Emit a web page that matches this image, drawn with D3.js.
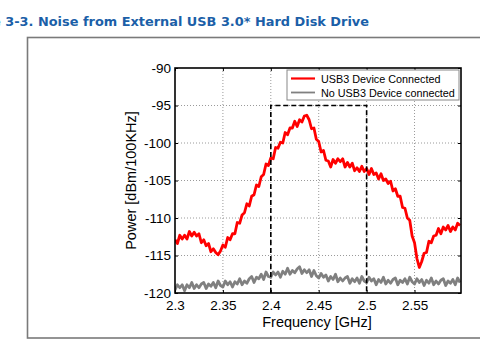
<!DOCTYPE html>
<html>
<head>
<meta charset="utf-8">
<script src="https://cdn.jsdelivr.net/npm/d3@7"></script>
<style>
  html, body { margin: 0; padding: 0; background: #fff; }
  svg { display: block; }
</style>
</head>
<body>
<svg id="chart" width="480" height="350"></svg>
<script>
// ---------- DATA ----------
const titleText = "Figure 3-3. Noise from External USB 3.0* Hard Disk Drive";
const seriesNames = ["USB3 Device Connected", "No USB3 Device connected"];
const xTicks = [2.3, 2.35, 2.4, 2.45, 2.5, 2.55];
const yTicks = [-90, -95, -100, -105, -110, -115, -120];
const xDomain = [2.3, 2.5985];
const yDomain = [-120, -90];
const bandBox = { x0: 2.4, x1: 2.5, yTop: -95, yBottom: -120 };

const freqGHz = [
  2.3000,2.3025,2.3050,2.3075,2.3100,2.3125,2.3150,2.3175,2.3200,2.3225,
  2.3250,2.3275,2.3300,2.3325,2.3350,2.3375,2.3400,2.3425,2.3450,2.3475,
  2.3500,2.3525,2.3550,2.3575,2.3600,2.3625,2.3650,2.3675,2.3700,2.3725,
  2.3750,2.3775,2.3800,2.3825,2.3850,2.3875,2.3900,2.3925,2.3950,2.3975,
  2.4000,2.4025,2.4050,2.4075,2.4100,2.4125,2.4150,2.4175,2.4200,2.4225,
  2.4250,2.4275,2.4300,2.4325,2.4350,2.4375,2.4400,2.4425,2.4450,2.4475,
  2.4500,2.4525,2.4550,2.4575,2.4600,2.4625,2.4650,2.4675,2.4700,2.4725,
  2.4750,2.4775,2.4800,2.4825,2.4850,2.4875,2.4900,2.4925,2.4950,2.4975,
  2.5000,2.5025,2.5050,2.5075,2.5100,2.5125,2.5150,2.5175,2.5200,2.5225,
  2.5250,2.5275,2.5300,2.5325,2.5350,2.5375,2.5400,2.5425,2.5450,2.5475,
  2.5500,2.5525,2.5550,2.5575,2.5600,2.5625,2.5650,2.5675,2.5700,2.5725,
  2.5750,2.5775,2.5800,2.5825,2.5850,2.5875,2.5900,2.5925,2.5950,2.5975
];

const usb3Connected = [
  -112.9,-113.4,-112.3,-112.8,-112.3,-112.8,-111.8,-112.4,-111.9,-112.4,
  -112.1,-113.3,-112.9,-113.7,-113.4,-114.5,-114.1,-114.6,-114.9,-114.4,
  -113.6,-113.9,-112.6,-112.9,-112.1,-112.1,-110.6,-110.7,-109.6,-109.3,
  -108.1,-108.4,-107.1,-106.9,-105.6,-105.8,-104.5,-104.2,-102.8,-103.0,
  -102.0,-102.1,-100.6,-100.7,-99.9,-100.0,-98.6,-98.9,-98.0,-98.0,
  -97.1,-97.8,-96.9,-97.2,-96.4,-96.3,-96.9,-98.1,-98.0,-99.5,
  -99.8,-101.2,-101.0,-102.3,-102.4,-103.2,-102.2,-102.7,-102.1,-102.5,
  -102.1,-103.2,-102.6,-103.2,-102.7,-103.7,-103.3,-103.8,-103.1,-103.8,
  -103.4,-104.2,-103.4,-104.2,-104.0,-104.8,-104.1,-105.0,-104.8,-105.4,
  -105.1,-106.4,-106.1,-107.1,-107.1,-108.6,-108.7,-110.0,-110.3,-112.4,
  -113.3,-115.4,-116.6,-115.8,-114.7,-114.6,-113.1,-113.3,-112.4,-112.3,
  -111.4,-112.1,-111.2,-111.6,-111.0,-111.8,-111.2,-111.6,-110.7,-111.0
];

const noUsb3 = [
  -119.6,-118.9,-119.3,-118.9,-119.7,-118.9,-119.3,-118.6,-119.4,-118.9,
  -119.3,-118.8,-118.6,-119.4,-118.8,-119.1,-118.6,-119.3,-118.4,-119.0,
  -119.2,-118.4,-118.9,-118.5,-119.2,-118.5,-118.8,-118.1,-118.9,-118.4,
  -118.7,-118.1,-117.8,-118.6,-117.9,-118.1,-117.5,-118.2,-117.2,-117.8,
  -117.9,-117.2,-117.6,-117.2,-117.9,-117.1,-117.5,-116.7,-117.5,-117.0,
  -117.3,-116.8,-116.5,-117.4,-116.9,-117.3,-116.9,-117.8,-117.0,-117.7,
  -118.0,-117.4,-117.9,-117.6,-118.4,-117.8,-118.2,-117.5,-118.5,-118.0,
  -118.4,-118.0,-117.8,-118.7,-118.1,-118.5,-118.0,-118.7,-117.8,-118.4,
  -118.6,-117.9,-118.4,-118.1,-118.9,-118.2,-118.6,-117.9,-118.8,-118.3,
  -118.7,-118.2,-118.0,-118.9,-118.3,-118.6,-118.1,-118.8,-117.9,-118.5,
  -118.8,-118.1,-118.6,-118.2,-119.0,-118.3,-118.7,-118.0,-118.9,-118.4,
  -118.8,-118.3,-118.1,-119.0,-118.4,-118.7,-118.2,-118.9,-118.0,-118.6
];

const seriesColors = ["#ff0000", "#808080"];

// ---------- DRAW ----------
const svg = d3.select("#chart");
const plot = { left: 175, right: 461, top: 68, bottom: 293 };

// Title (the reference shows it clipped at the left edge of the page)
svg.append("text")
  .attr("x", 369).attr("y", 26)
  .attr("text-anchor", "end")
  .attr("font-family", "DejaVu Sans, Verdana, sans-serif")
  .attr("font-weight", "bold")
  .attr("font-size", 12.9)
  .attr("fill", "#1b5fa8")
  .text(titleText);

// Outer frame
svg.append("rect")
  .attr("x", 27.5).attr("y", 37.5)
  .attr("width", 470).attr("height", 300.5)
  .attr("fill", "none")
  .attr("stroke", "#7a7a7a")
  .attr("stroke-width", 1.6);

const x = d3.scaleLinear().domain(xDomain).range([plot.left, plot.right]);
const y = d3.scaleLinear().domain(yDomain).range([plot.bottom, plot.top]);

const g = svg.append("g");

// Grid (dotted)
g.append("g").selectAll("line").data(xTicks.slice(1)).join("line")
  .attr("x1", d => x(d)).attr("x2", d => x(d))
  .attr("y1", plot.top).attr("y2", plot.bottom)
  .attr("stroke", "#9a9a9a").attr("stroke-width", 1)
  .attr("stroke-dasharray", "1,2");
g.append("g").selectAll("line").data(yTicks.slice(1, -1)).join("line")
  .attr("x1", plot.left).attr("x2", plot.right)
  .attr("y1", d => y(d)).attr("y2", d => y(d))
  .attr("stroke", "#9a9a9a").attr("stroke-width", 1)
  .attr("stroke-dasharray", "1,2");

// Curves
const line = d3.line().x(d => x(d[0])).y(d => y(d[1]));
const clipId = "plotclip";
svg.append("defs").append("clipPath").attr("id", clipId)
  .append("rect").attr("x", plot.left).attr("y", plot.top)
  .attr("width", plot.right - plot.left).attr("height", plot.bottom - plot.top);

const curves = g.append("g").attr("clip-path", `url(#${clipId})`);
curves.append("path")
  .datum(freqGHz.map((f, i) => [f, noUsb3[i]]))
  .attr("d", line).attr("fill", "none")
  .attr("stroke", seriesColors[1]).attr("stroke-width", 2.8)
  .attr("stroke-linejoin", "round");
curves.append("path")
  .datum(freqGHz.map((f, i) => [f, usb3Connected[i]]))
  .attr("d", line).attr("fill", "none")
  .attr("stroke", seriesColors[0]).attr("stroke-width", 2.8)
  .attr("stroke-linejoin", "round");

// Dashed band box
g.append("path")
  .attr("d", `M${x(bandBox.x0)},${y(bandBox.yBottom)} L${x(bandBox.x0)},${y(bandBox.yTop)} L${x(bandBox.x1)},${y(bandBox.yTop)} L${x(bandBox.x1)},${y(bandBox.yBottom)}`)
  .attr("fill", "none").attr("stroke", "#000").attr("stroke-width", 1.6)
  .attr("stroke-dasharray", "5,3");

// Axes (MATLAB style: inward ticks, box)
const tickLen = 3;
const xAxisB = d3.axisBottom(x).tickValues(xTicks).tickSizeInner(-tickLen).tickSizeOuter(0).tickPadding(6)
  .tickFormat(d => String(d));
const xAxisT = d3.axisTop(x).tickValues(xTicks).tickSizeInner(-tickLen).tickSizeOuter(0).tickFormat("");
const yAxisL = d3.axisLeft(y).tickValues(yTicks).tickSizeInner(-tickLen).tickSizeOuter(0).tickPadding(5)
  .tickFormat(d => String(d));
const yAxisR = d3.axisRight(y).tickValues(yTicks).tickSizeInner(-tickLen).tickSizeOuter(0).tickFormat("");

function styleAxis(sel) {
  sel.select(".domain").remove();
  sel.selectAll(".tick line").attr("stroke", "#000").attr("stroke-width", 1);
  sel.selectAll("text")
    .attr("font-family", "Liberation Sans, Arial, sans-serif")
    .attr("font-size", 13.5).attr("fill", "#000");
}
g.append("g").attr("transform", `translate(0,${plot.bottom})`).call(xAxisB).call(styleAxis)
  .selectAll("text").attr("dy", "0.71em").attr("y", 7);
g.append("g").attr("transform", `translate(0,${plot.top})`).call(xAxisT).call(styleAxis);
g.append("g").attr("transform", `translate(${plot.left},0)`).call(yAxisL).call(styleAxis)
  .selectAll("text").attr("x", -4);
g.append("g").attr("transform", `translate(${plot.right},0)`).call(yAxisR).call(styleAxis);

// Box
g.append("rect")
  .attr("x", plot.left).attr("y", plot.top)
  .attr("width", plot.right - plot.left).attr("height", plot.bottom - plot.top)
  .attr("fill", "none").attr("stroke", "#000").attr("stroke-width", 1.6);

// Axis labels
svg.append("text")
  .attr("x", (plot.left + plot.right) / 2 - 1).attr("y", 327)
  .attr("text-anchor", "middle")
  .attr("font-family", "Liberation Sans, Arial, sans-serif")
  .attr("font-size", 14.5).attr("fill", "#000")
  .text("Frequency [GHz]");
svg.append("text")
  .attr("transform", `translate(136,${(plot.top + plot.bottom) / 2}) rotate(-90)`)
  .attr("text-anchor", "middle")
  .attr("font-family", "Liberation Sans, Arial, sans-serif")
  .attr("font-size", 14.5).attr("fill", "#000")
  .text("Power [dBm/100KHz]");

// Legend
const leg = svg.append("g");
leg.append("rect")
  .attr("x", 287).attr("y", 70).attr("width", 172).attr("height", 30)
  .attr("fill", "#fff").attr("stroke", "#888").attr("stroke-width", 1);
seriesNames.forEach((name, i) => {
  const yy = 78.5 + i * 14;
  leg.append("line")
    .attr("x1", 291).attr("x2", 315).attr("y1", yy).attr("y2", yy)
    .attr("stroke", seriesColors[i]).attr("stroke-width", i === 0 ? 2.2 : 1.8);
  leg.append("text")
    .attr("x", 321).attr("y", yy + 4)
    .attr("font-family", "Liberation Sans, Arial, sans-serif")
    .attr("font-size", 10.8).attr("fill", "#000")
    .text(name);
});
</script>
</body>
</html>
